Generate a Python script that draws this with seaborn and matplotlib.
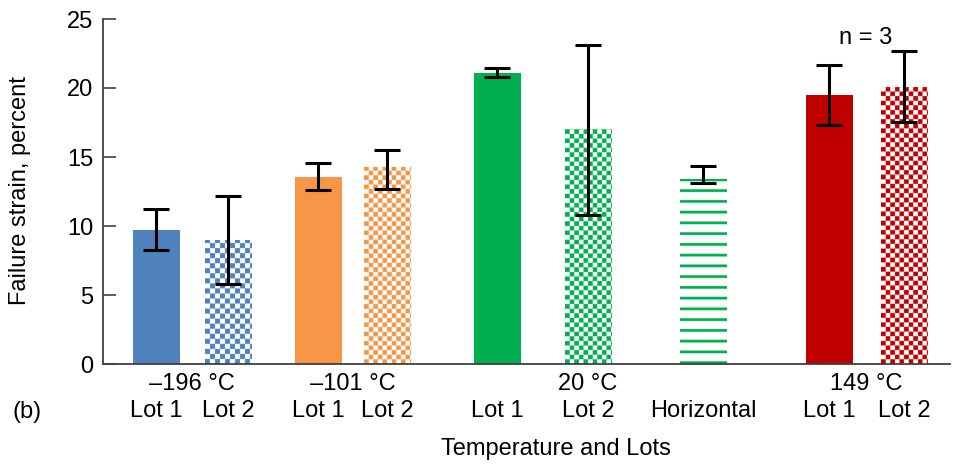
import numpy as np
import pandas as pd
import matplotlib
matplotlib.use("Agg")
import matplotlib.pyplot as plt
import seaborn as sns

# ---------------- data ----------------
temperatures = ["\u2013196 \u00b0C", "\u2013101 \u00b0C", "20 \u00b0C", "149 \u00b0C"]
bar_labels = ["Lot 1", "Lot 2", "Lot 1", "Lot 2", "Lot 1", "Lot 2", "Horizontal", "Lot 1", "Lot 2"]
bar_group = [0, 0, 1, 1, 2, 2, 2, 3, 3]
strain = [9.7, 9.0, 13.55, 14.25, 21.1, 17.0, 13.4, 19.5, 20.1]
err_low = [8.25, 5.8, 12.6, 12.7, 20.8, 10.8, 13.1, 17.3, 17.5]
err_high = [11.2, 12.15, 14.55, 15.5, 21.45, 23.1, 14.35, 21.65, 22.65]
patterns = ["solid", "checker", "solid", "checker", "solid", "checker", "hlines", "solid", "checker"]
annotation = "n = 3"

# ---------------- layout / style ----------------
positions = [156, 228, 318, 387, 497, 588, 703, 829, 904]   # bar centres (px-like units)
bar_w = 47
group_colors = ["#4F81BD", "#F79646", "#00B050", "#C00000"]
FS = 17

sns.set_theme(style="white")
plt.rcParams["font.family"] = ["Liberation Sans", "DejaVu Sans"]
plt.rcParams["text.color"] = "black"
plt.rcParams["ytick.color"] = "black"
plt.rcParams["xtick.color"] = "black"

W, H, DPI = 961, 465, 100
fig = plt.figure(figsize=(W / DPI, H / DPI), dpi=DPI)
ax = fig.add_axes([103 / W, 1 - 364 / H, (950 - 103) / W, (364 - 19) / H])

df = pd.DataFrame({"pos": positions, "strain": strain,
                   "grp": [temperatures[g] for g in bar_group]})
min_gap = np.min(np.diff(positions))
sns.barplot(data=df, x="pos", y="strain", hue="grp", hue_order=temperatures,
            palette=group_colors, native_scale=True, dodge=False,
            width=bar_w / min_gap, errorbar=None, legend=False, ax=ax,
            linewidth=0, saturation=1)

ax.set_xlim(103, 950)
ax.set_ylim(0, 25)
ax.set_yticks([0, 5, 10, 15, 20, 25])
ax.set_xticks([])
ax.set_xlabel("")
ax.set_ylabel("")
ax.tick_params(axis="y", direction="in", length=9, width=1.2, color="#404040",
               labelsize=FS, labelcolor="black", pad=7, left=True)
for s in ["top", "right"]:
    ax.spines[s].set_visible(False)
for s in ["left", "bottom"]:
    ax.spines[s].set_color("#404040")
    ax.spines[s].set_linewidth(1.3)

# collect bars sorted by x
bars = sorted([p for p in ax.patches if p.get_height() > 0], key=lambda p: p.get_x())

fig.canvas.draw()
for bar, pat, g in zip(bars, patterns, bar_group):
    if pat == "solid":
        continue
    col = np.array(matplotlib.colors.to_rgb(group_colors[g]))
    x0, y0 = bar.get_x(), bar.get_y()
    x1, y1 = x0 + bar.get_width(), y0 + bar.get_height()
    (px0, py0), (px1, py1) = ax.transData.transform([(x0, y0), (x1, y1)])
    wpx = int(round(px1 - px0)) * 4
    hpx = int(round(py1 - py0)) * 4
    img = np.ones((hpx, wpx, 3))
    yy, xx = np.mgrid[0:hpx, 0:wpx]
    yy_b = (hpx - 1 - yy) / 4.0  # from bottom, in px
    xx_p = xx / 4.0
    if pat == "checker":
        cell = 5.0 if g == 0 else 4.6
        mask = ((np.floor(xx_p / cell) + np.floor(yy_b / cell)) % 2) == 0
    else:
        period = 10.75
        mask = (yy_b % period) < 2.6
    img[mask] = col
    bar.set_facecolor("none")
    im = ax.imshow(img, extent=[x0, x1, y0, y1], aspect="auto",
                   interpolation="antialiased", zorder=bar.get_zorder())
    im.set_clip_path(bar)

ax.set_xlim(103, 950)
ax.set_ylim(0, 25)

# error bars
lo = np.array(strain) - np.array(err_low)
hi = np.array(err_high) - np.array(strain)
ax.errorbar(positions, strain, yerr=[lo, hi], fmt="none", ecolor="black",
            elinewidth=2.2, capsize=9.5, capthick=2.2, zorder=5)

# labels
trans = ax.get_xaxis_transform()
for i, t in enumerate(temperatures):
    xs = [positions[j] for j in range(len(positions)) if bar_group[j] == i]
    ax.text(float(np.median(xs)), -0.058, t, transform=trans, ha="center",
            va="center", fontsize=FS, color="black")
for xp, lab in zip(positions, bar_labels):
    ax.text(xp, -0.135, lab, transform=trans, ha="center", va="center",
            fontsize=FS, color="black")

fig.text(27 / W, 1 - 412 / H, "(b)", ha="center", va="center", fontsize=FS, color="black")
fig.text(556 / W, 1 - 449 / H, "Temperature and Lots", ha="center", va="center",
         fontsize=FS, color="black")
fig.text(20 / W, 1 - 191 / H, "Failure strain, percent", ha="center", va="center",
         rotation=90, fontsize=FS, color="black")
ax.text(866, 23.6, annotation, ha="center", va="center", fontsize=FS, color="black")

fig.savefig("out.png", dpi=DPI)
